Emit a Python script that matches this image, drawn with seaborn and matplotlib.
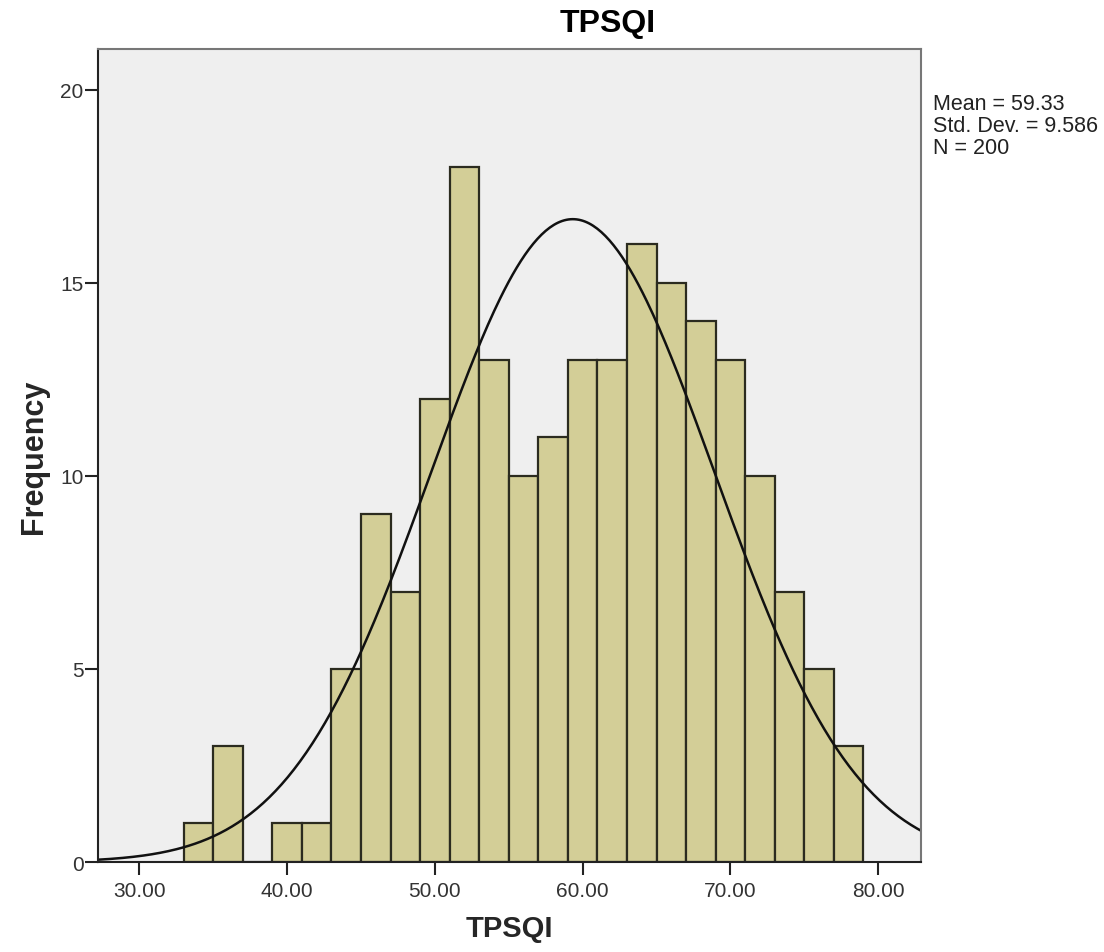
import numpy as np
import pandas as pd
import matplotlib
matplotlib.use("Agg")
import matplotlib.pyplot as plt
import seaborn as sns

# histogram bins (width 2, from 33 to 79)
bin_edges = list(range(33, 81, 2))
counts = [1, 3, 0, 1, 1, 5, 9, 7, 12, 18, 13, 10, 11, 13, 13, 16, 15, 14, 13, 10, 7, 5, 3]
mean_val = 59.33
std_val = 9.586
n_val = 200

x_ticks = [30, 40, 50, 60, 70, 80]
y_ticks = [0, 5, 10, 15, 20]

sns.set_style("white")
plt.rcParams['font.family'] = ['Liberation Sans', 'DejaVu Sans']

df = pd.DataFrame({"TPSQI": [e + 1 for e in bin_edges[:-1]], "count": counts})

fig = plt.figure(figsize=(11.04, 9.53), dpi=100)
ax = fig.add_axes([0.0888, 0.0944, 0.7455, 0.853])
ax.set_facecolor("#efefef")

sns.histplot(data=df, x="TPSQI", weights="count", bins=bin_edges, ax=ax,
             color="#d3ce97", alpha=1, edgecolor="#2b2b1f", linewidth=1.6)

# fitted normal curve
xs = np.linspace(27.2, 82.9, 400)
ys = n_val * 2 * np.exp(-0.5 * ((xs - mean_val) / std_val) ** 2) / (std_val * np.sqrt(2 * np.pi))
sns.lineplot(x=xs, y=ys, ax=ax, color="#111111", linewidth=1.8)

ax.set_xlim(27.2, 82.9)
ax.set_ylim(0, 21.05)
ax.set_xticks(x_ticks)
ax.set_xticklabels([f"{t:.2f}" for t in x_ticks])
ax.set_yticks(y_ticks)
ax.tick_params(axis="both", direction="out", length=9.5, width=1.5, color="#222222",
               labelsize=15, labelcolor="#333333", left=True, bottom=True)
ax.tick_params(axis="x", pad=4)
ax.tick_params(axis="y", pad=1)

for side in ["left", "bottom"]:
    ax.spines[side].set_color("#222222")
    ax.spines[side].set_linewidth(1.5)
for side in ["top", "right"]:
    ax.spines[side].set_color("#777777")
    ax.spines[side].set_linewidth(1.5)

fig.text(608 / 1104, 1 - 24 / 953, "TPSQI", fontsize=23, fontweight="bold",
         ha="center", va="center", color="black")
ax.set_xlabel("TPSQI", fontsize=21, fontweight="bold", labelpad=10)
ax.set_ylabel("Frequency", fontsize=22, fontweight="bold", labelpad=8)

fig.text(0.845, 0.901, f"Mean = {mean_val:.2f}\nStd. Dev. = {std_val:.3f}\nN = {n_val}",
         fontsize=15.5, color="#222222", va="top", ha="left", linespacing=1.05)

fig.savefig("out.png", dpi=100)
